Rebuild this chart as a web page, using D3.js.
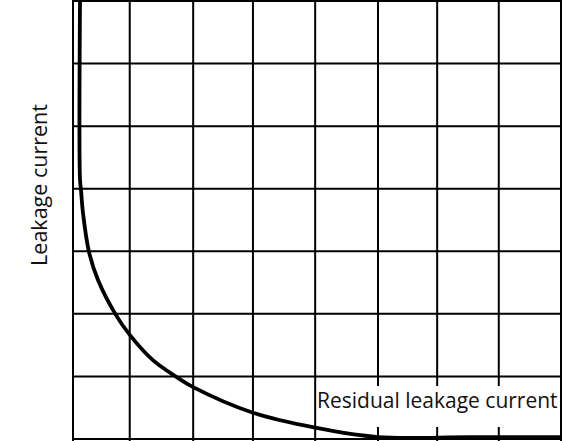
<!DOCTYPE html>
<html>
<head>
<meta charset="utf-8">
<script src="https://cdn.jsdelivr.net/npm/d3@7"></script>
<style>
html,body{margin:0;padding:0;background:#fff;}
svg{display:block;}
</style>
</head>
<body>
<svg id="chart" width="575" height="441"></svg>
<script>
// Data (grid units: x 0..8 columns, y 0..7 rows)
const xGridTicks = [0,0.93,1.97,2.95,3.97,5.0,5.97,6.98,8];
const yGridTicks = [0,1,2,3,4,5,6,7];
const curveX = [0.115,0.115,0.131,0.164,0.262,0.41,0.705,0.934,1.31,1.70,1.97,2.95,3.97,5.0,6.5,8.0];
const curveY = [7.02,4.14,3.98,3.61,2.99,2.54,1.98,1.66,1.26,0.99,0.83,0.42,0.18,0.03,0.03,0.03];
const yLabel = "Leakage current";
const residualLabel = "Residual leakage current";

const svg = d3.select("#chart");
const x = d3.scaleLinear().domain([0,8]).range([73,561]);
const y = d3.scaleLinear().domain([0,7]).range([439,1]);

// grid
svg.append("g").selectAll("line").data(xGridTicks).join("line")
  .attr("x1", d=>x(d)).attr("x2", d=>x(d))
  .attr("y1", 0).attr("y2", 441)
  .attr("stroke","#000").attr("stroke-width",2);
svg.append("g").selectAll("line").data(yGridTicks).join("line")
  .attr("x1", x(0)-1).attr("x2", x(8)+1)
  .attr("y1", d=>y(d)).attr("y2", d=>y(d))
  .attr("stroke","#000").attr("stroke-width",2);

// curve
const pts = curveX.map((v,i)=>[v,curveY[i]]);
const line = d3.line().x(d=>x(d[0])).y(d=>y(d[1])).curve(d3.curveCatmullRom.alpha(0.5));

// label box
svg.append("rect").attr("x",317).attr("y",386).attr("width",242).attr("height",41).attr("fill","#fff");

svg.append("path").datum(pts).attr("d",line)
  .attr("fill","none").attr("stroke","#000").attr("stroke-width",3.8).attr("stroke-linecap","butt");

svg.append("text").attr("x",317).attr("y",408)
  .attr("font-family","'Open Sans', sans-serif").attr("font-size",21)
  .attr("fill","#111").text(residualLabel);

svg.append("text").attr("transform","translate(47,185) rotate(-90)")
  .attr("text-anchor","middle")
  .attr("font-family","'Open Sans', sans-serif").attr("font-size",21.5)
  .attr("fill","#111").text(yLabel);
</script>
</body>
</html>
